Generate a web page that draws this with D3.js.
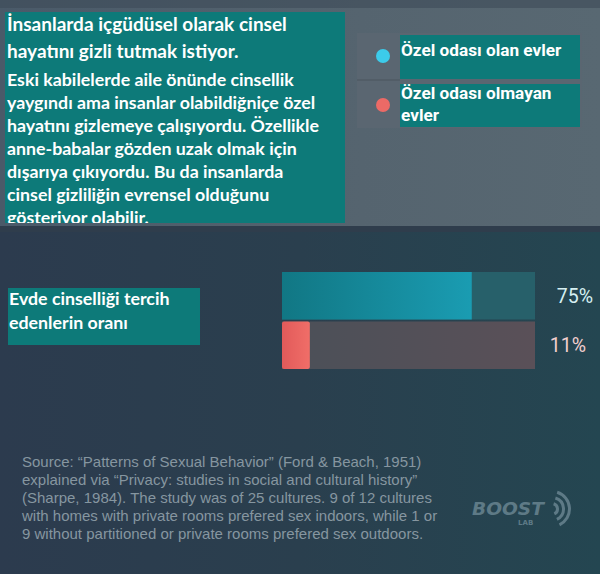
<!DOCTYPE html>
<html>
<head>
<meta charset="utf-8">
<script src="https://cdn.jsdelivr.net/npm/d3@7"></script>
<style>
  body { margin: 0; background: #2a3e4d; }
  svg { display: block; }
</style>
</head>
<body>
<svg id="chart"></svg>
<script>
// data
var categories = ["Özel odası olan evler", "Özel odası olmayan evler"];
var values = [75, 11];
var valueLabels = ["75%", "11%"];
var titleLines = ["İnsanlarda içgüdüsel olarak cinsel", "hayatını gizli tutmak istiyor."];
var bodyLines = ["Eski kabilelerde aile önünde cinsellik",
  "yaygındı ama insanlar olabildiğniçe özel",
  "hayatını gizlemeye çalışıyordu. Özellikle",
  "anne-babalar gözden uzak olmak için",
  "dışarıya çıkıyordu. Bu da insanlarda",
  "cinsel gizliliğin evrensel olduğunu",
  "gösteriyor olabilir."];
var legendLines = [["Özel odası olan evler"], ["Özel odası olmayan", "evler"]];
var barLabelLines = ["Evde cinselliği tercih", "edenlerin oranı"];
var sourceLines = ["Source: “Patterns of Sexual Behavior” (Ford & Beach, 1951)",
  "explained via “Privacy: studies in social and cultural history”",
  "(Sharpe, 1984). The study was of 25 cultures. 9 of 12 cultures",
  "with homes with private rooms prefered sex indoors, while 1 or",
  "9 without partitioned or private rooms prefered sex outdoors."];

var W = 600, H = 574;
var svg = d3.select("#chart").attr("width", W).attr("height", H);
var defs = svg.append("defs");

function grad(id, stops, x2, y2) {
  var g = defs.append("linearGradient").attr("id", id)
    .attr("x1", 0).attr("y1", 0).attr("x2", x2).attr("y2", y2);
  stops.forEach(function(s) { g.append("stop").attr("offset", s[0]).attr("stop-color", s[1]); });
}
grad("topBg", [[0, "#4a5a69"], [0.6, "#55646f"], [1, "#586872"]], 1, 0);
grad("botBg", [[0, "#2c3b4e"], [0.5, "#2a3f4e"], [1, "#244651"]], 1, 0);
grad("blueFill", [[0, "#117784"], [1, "#1a9cb2"]], 1, 0);
grad("redFill", [[0, "#e25a5a"], [1, "#f06e68"]], 1, 0);
grad("redTrack", [[0, "#4b5058"], [1, "#5a5058"]], 1, 0);

// background
svg.append("rect").attr("width", W).attr("height", H).attr("fill", "url(#botBg)");
svg.append("rect").attr("width", W).attr("height", 228).attr("fill", "url(#topBg)");
svg.append("rect").attr("width", W).attr("height", 8).attr("fill", "#3d4b58").attr("opacity", 0.6);
svg.append("rect").attr("y", 226).attr("width", W).attr("height", 6).attr("fill", "#2f3d4c");

// text box
defs.append("clipPath").attr("id", "boxClip").append("rect")
  .attr("x", 5).attr("y", 12).attr("width", 340).attr("height", 211);
var box = svg.append("g").attr("clip-path", "url(#boxClip)");
box.append("rect").attr("x", 5).attr("y", 12).attr("width", 340).attr("height", 211).attr("fill", "#0d7a79");
box.selectAll(".title").data(titleLines).enter().append("text")
  .attr("x", 7).attr("y", function(d, i) { return 31 + i * 27; })
  .attr("font-family", "Lato").attr("font-weight", "bold").attr("font-size", 19)
  .attr("fill", "#ffffff").text(function(d) { return d; });
box.selectAll(".body").data(bodyLines).enter().append("text")
  .attr("x", 7).attr("y", function(d, i) { return 86 + i * 23; })
  .attr("font-family", "Lato").attr("font-weight", "bold").attr("font-size", 17.8)
  .attr("fill", "#ffffff").text(function(d) { return d; });

// legend
var colors = ["#3ccbea", "#ec6a66"];
svg.append("rect").attr("x", 357).attr("y", 33).attr("width", 225).attr("height", 95).attr("fill", "#5a6671");
var legRows = [[35, 44], [84, 43]];
var leg = svg.selectAll(".leg").data(categories).enter().append("g");
leg.append("rect").attr("x", 400).attr("y", function(d, i) { return legRows[i][0]; })
  .attr("width", 180).attr("height", function(d, i) { return legRows[i][1]; }).attr("fill", "#0d7a79");
leg.append("line").attr("x1", 357).attr("x2", 400)
  .attr("y1", function(d, i) { return legRows[i][0] + legRows[i][1] + 1; })
  .attr("y2", function(d, i) { return legRows[i][0] + legRows[i][1] + 1; })
  .attr("stroke", function(d, i) { return i === 0 ? "#4a555f" : "none"; });
leg.append("circle").attr("cx", 383).attr("cy", function(d, i) { return i === 0 ? 56 : 105; })
  .attr("r", 7).attr("fill", function(d, i) { return colors[i]; });
leg.each(function(d, i) {
  d3.select(this).selectAll("text").data(legendLines[i]).enter().append("text")
    .attr("x", 401).attr("y", function(t, j) { return (i === 0 ? 56 : 99) + j * 22; })
    .attr("font-family", "Roboto").attr("font-weight", "bold").attr("font-size", 17.2)
    .attr("fill", "#ffffff").text(function(t) { return t; });
});

// bar label box
svg.append("rect").attr("x", 8).attr("y", 288).attr("width", 192).attr("height", 57).attr("fill", "#0d7a79");
svg.selectAll(".blab").data(barLabelLines).enter().append("text")
  .attr("x", 9).attr("y", function(d, i) { return 305 + i * 24; })
  .attr("font-family", "Lato").attr("font-weight", "bold").attr("font-size", 17.8)
  .attr("fill", "#ffffff").text(function(d) { return d; });

// bars
var x = d3.scaleLinear().domain([0, 100]).range([282, 535]);
var y = d3.scaleBand().domain(categories).range([272, 369]).paddingInner(0.04);
var trackFill = ["#27606a", "url(#redTrack)"];
var barFill = ["url(#blueFill)", "url(#redFill)"];
var labelFill = ["#d6f0f2", "#f2cfcf"];

svg.selectAll(".track").data(categories).enter().append("rect")
  .attr("x", x(0)).attr("y", function(d) { return y(d); })
  .attr("width", x(100) - x(0)).attr("height", y.bandwidth())
  .attr("fill", function(d, i) { return trackFill[i]; });
svg.selectAll(".bar").data(values).enter().append("rect")
  .attr("x", x(0)).attr("y", function(d, i) { return y(categories[i]); })
  .attr("width", function(d) { return x(d) - x(0); }).attr("height", y.bandwidth())
  .attr("rx", function(d, i) { return i === 1 ? 2 : 0; })
  .attr("fill", function(d, i) { return barFill[i]; });
svg.selectAll(".val").data(valueLabels).enter().append("text")
  .attr("x", 593).attr("y", function(d, i) { return y(categories[i]) + y.bandwidth() / 2 + 7; })
  .attr("text-anchor", "end")
  .attr("dx", function(d, i) { return i === 1 ? -7 : 0; })
  .attr("font-family", "Roboto").attr("font-size", 19.5)
  .attr("fill", function(d, i) { return labelFill[i]; }).text(function(d) { return d; });

// source
svg.selectAll(".src").data(sourceLines).enter().append("text")
  .attr("x", 22).attr("y", function(d, i) { return 467 + i * 18; })
  .attr("font-family", "Liberation Sans, Arial").attr("font-size", 15)
  .attr("fill", "#8696a0").text(function(d) { return d; });

// logo
var logo = svg.append("g").attr("transform", "translate(472,500)").attr("fill", "#5e7a86");
logo.append("text").attr("x", 0).attr("y", 15).attr("font-family", "DejaVu Sans").attr("font-weight", "bold")
  .attr("font-style", "italic").attr("font-size", 17).attr("textLength", 72)
  .attr("lengthAdjust", "spacingAndGlyphs").text("BOOST");
logo.append("text").attr("x", 46).attr("y", 25).attr("font-family", "DejaVu Sans").attr("font-weight", "bold")
  .attr("font-size", 7).text("LAB");
[7, 13, 19].forEach(function(r) {
  logo.append("path").attr("d", d3.arc()({ innerRadius: r - 3, outerRadius: r, startAngle: 0.3, endAngle: 2.7 }))
    .attr("transform", "translate(80,9)");
});
</script>
</body>
</html>
